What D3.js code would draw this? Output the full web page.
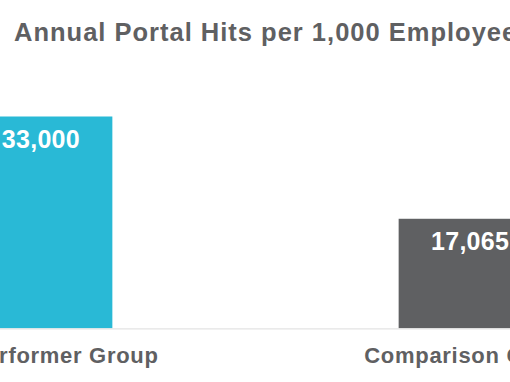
<!DOCTYPE html>
<html>
<head>
<meta charset="utf-8">
<script src="https://cdn.jsdelivr.net/npm/d3@7"></script>
<style>
  html, body { margin: 0; padding: 0; background: #ffffff; overflow: hidden; }
  svg { display: block; }
  text { font-family: "Liberation Sans", Arial, sans-serif; font-weight: bold; }
</style>
</head>
<body>
<svg id="chart" width="510" height="382"></svg>
<script>
const categories = ["Top Performer Group", "Comparison Group"];
const values = [33000, 17065];
const valueLabels = ["33,000", "17,065"];
const barColors = ["#29B9D6", "#5F6062"];
const title = "Annual Portal Hits per 1,000 Employees";

const W = 510, H = 382;
const svg = d3.select("#chart");

const x = d3.scaleBand()
  .domain(categories)
  .range([-173.5, 684.5])
  .paddingInner(0.667)
  .paddingOuter(0.333);

const y = d3.scaleLinear()
  .domain([0, 33000])
  .range([328.3, 116.5]);

// title
svg.append("text")
  .attr("x", 14)
  .attr("y", 41)
  .attr("fill", "#5F6062")
  .style("font-size", "25.5px")
  .style("letter-spacing", "1px")
  .text(title);

// bars
svg.selectAll("rect.bar")
  .data(categories)
  .join("rect")
  .attr("class", "bar")
  .attr("x", d => x(d))
  .attr("width", x.bandwidth())
  .attr("y", (d, i) => y(values[i]))
  .attr("height", (d, i) => y(0) - y(values[i]))
  .attr("fill", (d, i) => barColors[i]);

// axis line
const axis = svg.append("g").attr("transform", `translate(0,${y(0)})`)
  .call(d3.axisBottom(x).tickSize(0).tickFormat(""));
axis.select(".domain").attr("stroke", "#E3E3E3").attr("stroke-width", 1.3).attr("d", `M-200,0.5H720`);

// value labels
svg.selectAll("text.val")
  .data(categories)
  .join("text")
  .attr("class", "val")
  .attr("x", d => x(d) + x.bandwidth() / 2)
  .attr("y", (d, i) => y(values[i]) + 31.5)
  .attr("text-anchor", "middle")
  .attr("fill", "#ffffff")
  .style("font-size", "25px")
  .style("letter-spacing", "0.3px")
  .text((d, i) => valueLabels[i]);

// category labels
svg.selectAll("text.cat")
  .data(categories)
  .join("text")
  .attr("class", "cat")
  .attr("x", d => x(d) + x.bandwidth() / 2)
  .attr("y", 363)
  .attr("text-anchor", "middle")
  .attr("fill", "#5F6062")
  .style("font-size", "22px")
  .style("letter-spacing", "0.7px")
  .text(d => d);
</script>
</body>
</html>
